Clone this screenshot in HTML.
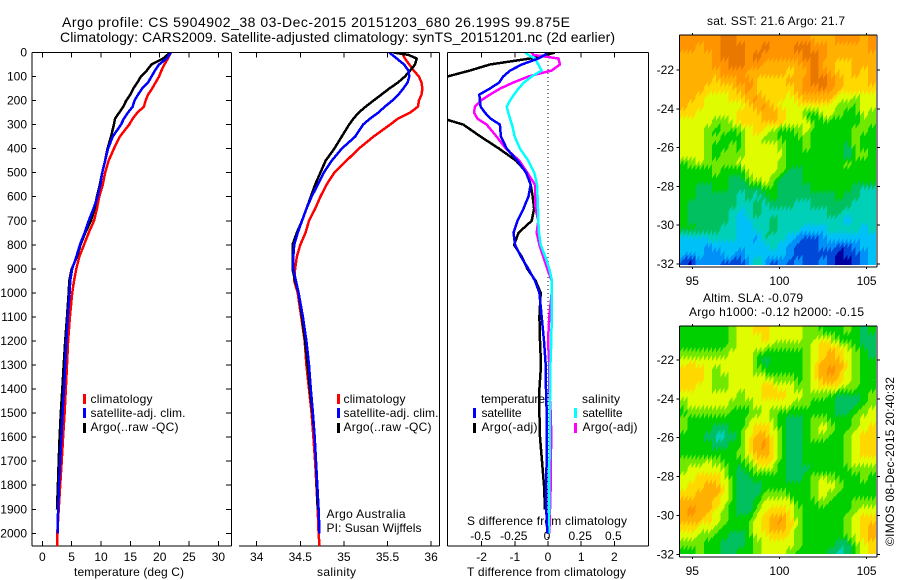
<!DOCTYPE html>
<html>
<head>
<meta charset="utf-8">
<title>Argo profile</title>
<style>
html,body{margin:0;padding:0;background:#fff;}
svg{display:block;}
text{font-family:"Liberation Sans",Arial,sans-serif;font-size:12px;fill:#000;}
.t14{font-size:14px;}
.crisp{shape-rendering:crispEdges;}
</style>
</head>
<body>
<svg id="chart" xmlns="http://www.w3.org/2000/svg" width="900" height="580" viewBox="0 0 900 580">
<defs>
<clipPath id="clip-t"><rect x="32" y="53" width="199" height="493"/></clipPath>
<clipPath id="clip-s"><rect x="239" y="53" width="200" height="493"/></clipPath>
<clipPath id="clip-d"><rect x="447.5" y="53" width="201" height="493"/></clipPath>
<clipPath id="clip-m1"><rect x="679" y="35" width="197" height="230"/></clipPath>
<clipPath id="clip-m2"><rect x="679" y="326" width="197" height="228"/></clipPath>
</defs>
<rect x="0" y="0" width="900" height="580" fill="#fff"/>
<text class="t14" x="62" y="27" textLength="508">Argo profile: CS 5904902_38 03-Dec-2015 20151203_680 26.199S 99.875E</text>
<text class="t14" x="60" y="42" textLength="555">Climatology: CARS2009. Satellite-adjusted climatology: synTS_20151201.nc (2d earlier)</text>

<text x="74" y="576" textLength="110">temperature (deg C)</text>
<text x="317" y="576" textLength="39">salinity</text>
<text x="467" y="576" textLength="159">T difference from climatology</text>
<text x="467" y="525" textLength="160">S difference from climatology</text>

<g>
<rect x="83" y="394" width="3" height="10" fill="#f00"/>
<rect x="83" y="408" width="3" height="10" fill="#00f"/>
<rect x="83" y="423" width="3" height="10" fill="#000"/>
<text x="90.5" y="403" textLength="62">climatology</text>
<text x="90.5" y="417" textLength="95">satellite-adj. clim.</text>
<text x="90.5" y="431" textLength="88">Argo(..raw -QC)</text>
</g>
<g>
<rect x="337" y="394" width="3" height="10" fill="#f00"/>
<rect x="337" y="408" width="3" height="10" fill="#00f"/>
<rect x="337" y="423" width="3" height="10" fill="#000"/>
<text x="343.5" y="403" textLength="62">climatology</text>
<text x="343.5" y="417" textLength="95">satellite-adj. clim.</text>
<text x="343.5" y="431" textLength="88">Argo(..raw -QC)</text>
<text x="326.5" y="518" textLength="79">Argo Australia</text>
<text x="326.5" y="532" textLength="95">PI: Susan Wijffels</text>
</g>

<g id="panels"></g>

<g>
<text x="481" y="403" textLength="64">temperature</text>
<text x="582" y="403" textLength="38">salinity</text>
<rect x="473" y="408" width="3" height="10" fill="#00f"/>
<rect x="473" y="423" width="3" height="10" fill="#000"/>
<rect x="574" y="408" width="3" height="10" fill="#0ff"/>
<rect x="574" y="423" width="3" height="10" fill="#f0f"/>
<text x="481.5" y="417" textLength="40">satellite</text>
<text x="481.5" y="431" textLength="56">Argo(-adj)</text>
<text x="582.5" y="417" textLength="40">satellite</text>
<text x="582.5" y="431" textLength="55">Argo(-adj)</text>
</g>

<text x="707" y="25" textLength="138">sat. SST: 21.6 Argo: 21.7</text>
<text x="703" y="302" textLength="100">Altim. SLA: -0.079</text>
<text x="689" y="316" textLength="175">Argo h1000: -0.12 h2000: -0.15</text>
<text transform="translate(894,546) rotate(-90)" x="0" y="0" textLength="169">©IMOS 08-Dec-2015 20:40:32</text>
</svg>
<script>
const depths = [0,10,25,50,75,100,125,150,175,200,225,250,275,300,350,400,450,500,550,600,650,700,750,800,850,900,950,1000,1100,1200,1300,1400,1500,1600,1700,1800,1900,2000,2052];

const tempClim = [21.9,21.7,21.4,20.8,20.3,19.9,19.3,18.7,18.0,17.6,17.3,16.2,15.4,14.8,13.2,12.2,11.3,10.7,10.3,9.7,9.3,8.8,7.9,7.1,6.3,5.8,5.4,5.1,4.7,4.4,4.2,4.0,3.8,3.55,3.3,3.05,2.8,2.55,2.55];
const tempSat = [21.9,21.6,21.2,19.9,19.2,18.6,18.0,17.0,16.3,15.7,15.4,14.6,13.9,13.4,12.0,11.2,10.7,10.2,9.9,9.4,8.7,7.9,7.2,6.4,5.8,5.1,4.75,4.65,4.35,4.1,3.9,3.7,3.45,3.25,3.05,2.85,2.7,2.6,null];
const tempArgo = [21.9,21.3,20.6,18.6,17.8,16.8,16.2,15.5,15.0,14.3,13.8,13.1,12.4,12.2,11.7,11.1,10.7,10.2,9.8,9.3,8.9,8.3,7.3,6.5,5.9,5.0,4.6,4.5,4.2,3.9,3.65,3.4,3.15,2.95,2.8,2.65,2.5,null,null];

const salClim = [35.66,35.68,35.70,35.75,35.80,35.86,35.89,35.90,35.89,35.86,35.85,35.76,35.62,35.53,35.34,35.17,35.03,34.89,34.80,34.73,34.67,34.60,34.56,34.50,34.46,34.44,34.43,34.47,34.51,34.55,34.57,34.60,34.63,34.65,34.67,34.685,34.70,34.71,34.72];
const salSat = [35.52,35.555,35.605,35.69,35.74,35.75,35.73,35.68,35.625,35.555,35.47,35.395,35.30,35.22,35.13,34.975,34.86,34.77,34.70,34.63,34.57,34.52,34.47,34.43,34.42,34.42,34.45,34.48,34.53,34.57,34.60,34.62,34.645,34.665,34.68,34.695,34.71,34.72,null];
const salArgo = [35.57,35.74,35.835,35.815,35.76,35.70,35.62,35.52,35.43,35.34,35.25,35.17,35.11,35.06,34.975,34.89,34.79,34.73,34.67,34.62,34.57,34.52,34.46,34.41,34.41,34.41,34.44,34.48,34.52,34.555,34.585,34.61,34.64,34.665,34.68,34.69,34.70,null,null];

const tDiffSat = [-0.04,-0.09,-0.29,-0.79,-1.14,-1.35,-1.47,-1.75,-2.07,-2.05,-2.03,-1.90,-1.73,-1.45,-1.42,-1.24,-0.92,-0.66,-0.52,-0.59,-0.74,-0.92,-1.04,-0.99,-0.81,-0.59,-0.39,-0.26,-0.19,-0.12,-0.07,-0.06,-0.04,-0.04,-0.04,-0.06,-0.05,-0.02,null];
const tDiffArgo = [0.21,-0.04,-0.54,-1.75,-2.35,-3.03,-3.5,-4,-4.2,-4.2,-4,-3.7,-3.15,-2.55,-2.03,-1.47,-0.96,-0.64,-0.52,-0.46,-0.42,-0.49,-0.89,-1.02,-0.79,-0.62,-0.37,-0.22,-0.26,-0.24,-0.21,-0.26,-0.26,-0.24,-0.18,-0.12,-0.09,null,null];
const sDiffSat = [-0.173,-0.148,-0.098,-0.073,-0.048,-0.123,-0.181,-0.223,-0.256,-0.286,-0.311,-0.299,-0.286,-0.271,-0.251,-0.211,-0.148,-0.103,-0.083,-0.078,-0.075,-0.073,-0.068,-0.055,-0.02,0.01,0.03,0.028,0.028,0.025,0.018,0.016,0.014,0.012,0.011,0.01,0.008,0.005,null];
const sDiffArgo = [-0.123,-0.11,0.078,0.09,0.028,-0.148,-0.261,-0.361,-0.437,-0.507,-0.55,-0.557,-0.532,-0.462,-0.387,-0.316,-0.216,-0.156,-0.098,-0.098,-0.093,-0.073,-0.085,-0.065,-0.035,-0.005,0.028,0.028,0.01,0,0.01,0.01,0.02,0.025,0.02,0.02,0.015,0.01,null];

const depthTicks = [0,100,200,300,400,500,600,700,800,900,1000,1100,1200,1300,1400,1500,1600,1700,1800,1900,2000];
const tempTicks = [0,5,10,15,20,25,30];
const salTicks = [34,34.5,35,35.5,36];
const tDiffTicks = [-2,-1,0,1,2];
const sDiffTicks = [-0.5,-0.25,0,0.25,0.5];
const lonTicks = [95,100,105];
const latTicks = [-22,-24,-26,-28,-30,-32];

const sstLevels = [
[11,11,11,11,11,12,12,11,11,11,11,11,11,11,11,11,10,10,10,11,11,11,10,11],
[11,11,10,11,11,12,12,12,11,11,12,11,11,11,12,12,11,11,10,10,10,10,10,11],
[10,10,10,10,11,12,12,12,11,12,11,11,11,11,11,12,12,11,10,10,10,10,10,10],
[10,10,10,10,11,11,12,12,11,11,10,10,10,10,10,11,12,10,10,9,9,10,10,10],
[10,10,10,10,10,11,11,11,10,10,10,10,10,9,10,10,12,11,10,9,9,10,9,10],
[10,10,10,10,9,10,10,11,11,9,9,9,9,10,10,11,12,12,11,10,9,9,9,10],
[10,10,10,9,9,9,9,10,11,9,9,9,9,9,10,11,11,12,11,10,9,9,9,9],
[10,10,9,8,8,8,9,9,10,11,9,9,9,8,9,10,10,10,10,8,8,7,8,8],
[10,9,9,8,8,8,8,8,9,10,11,9,8,8,8,9,8,8,8,7,7,6,8,8],
[9,9,8,8,8,8,8,9,9,9,10,10,9,8,8,6,6,8,8,7,6,6,8,7],
[8,8,8,8,7,7,8,9,9,9,10,10,9,8,8,8,6,6,6,6,6,6,7,7],
[8,8,8,7,6,7,6,7,8,9,8,7,6,6,7,8,6,6,6,6,6,7,7,6],
[8,8,8,7,7,6,6,6,8,8,7,7,6,6,6,7,6,6,6,6,6,7,6,6],
[8,8,8,7,6,6,7,6,8,8,8,8,7,6,6,7,6,6,6,6,5,7,6,6],
[8,8,8,7,6,7,7,7,8,8,8,8,8,6,6,6,6,6,6,6,4,7,7,6],
[6,7,8,7,7,7,7,8,8,8,8,8,7,6,6,6,6,6,6,6,7,6,6,6],
[6,6,6,6,7,6,6,6,8,8,8,8,7,5,5,6,6,6,6,6,6,6,6,6],
[6,6,6,6,6,6,5,5,7,8,8,7,5,5,5,6,6,6,6,6,6,6,6,6],
[6,6,5,5,6,6,5,5,5,5,7,6,5,5,5,5,6,6,6,6,6,5,4,4],
[6,6,5,5,5,5,5,4,5,4,5,7,5,5,5,5,5,5,5,6,5,5,4,4],
[6,5,5,5,5,5,5,4,4,5,4,5,5,5,4,4,5,5,5,5,5,4,4,4],
[6,5,5,5,5,5,4,3,4,5,4,4,4,4,4,4,4,4,5,5,4,4,4,4],
[6,5,5,5,5,5,4,3,3,4,4,5,4,4,4,4,4,4,4,4,2,4,4,4],
[6,6,5,5,5,4,4,3,3,4,4,5,4,4,4,3,3,3,4,4,4,4,3,4],
[3,3,3,4,4,4,4,3,3,2,5,4,4,3,2,1,1,2,3,3,3,3,3,3],
[3,3,3,2,3,3,3,3,3,3,3,4,3,2,1,1,1,2,2,1,1,2,3,3],
[3,3,3,2,2,3,3,2,3,3,3,3,3,2,1,1,1,1,1,0,1,1,2,3],
[1,0,2,2,2,1,1,1,2,5,2,1,2,1,2,1,1,2,1,0,0,1,2,3]
];

const slaLevels = [
[6,6,6,6,6,6,7,8,8,9,9,8,8,8,8,7,7,6,6,6,7,6,5,6],
[6,6,6,6,6,6,7,8,8,8,9,8,8,8,8,7,7,8,7,6,6,6,5,5],
[6,6,6,6,6,6,7,8,8,8,8,7,7,7,7,7,8,9,9,8,7,6,5,5],
[7,7,7,7,7,7,8,8,8,6,6,6,6,6,6,7,8,9,10,9,8,7,6,5],
[8,9,8,8,8,8,8,8,8,6,5,6,6,6,6,7,8,10,10,10,8,7,6,6],
[9,9,9,8,7,8,8,8,8,7,6,6,6,6,6,7,9,10,11,10,8,7,6,6],
[9,9,9,8,7,7,8,8,8,8,8,7,7,7,6,7,8,10,10,9,8,7,6,6],
[9,9,8,8,7,7,8,8,8,8,9,9,8,8,7,7,8,9,9,8,7,7,6,6],
[8,8,8,8,8,8,8,7,8,8,9,9,9,8,8,7,7,7,6,5,5,5,6,7],
[7,8,8,8,8,8,7,7,7,8,8,8,8,8,7,7,6,6,6,5,5,5,6,7],
[6,7,7,7,7,7,6,6,6,7,8,7,6,6,6,6,6,6,6,5,5,6,7,8],
[7,6,6,6,6,6,6,6,7,8,8,7,6,5,5,6,7,7,6,6,6,7,8,8],
[7,6,6,6,5,5,6,6,8,9,9,8,6,5,5,6,7,8,7,6,6,7,8,9],
[6,6,6,5,4,4,5,6,8,10,10,8,6,5,5,6,7,7,6,6,7,8,9,9],
[6,6,6,6,5,5,6,6,8,10,11,9,6,5,5,6,6,6,6,6,7,8,9,9],
[6,6,6,6,6,6,6,7,8,10,10,9,6,5,5,6,6,6,6,6,7,8,9,9],
[7,7,7,8,7,6,6,6,7,9,9,8,6,5,5,6,6,6,6,6,7,8,8,8],
[7,8,8,8,8,7,6,5,6,7,8,7,6,5,5,5,6,6,6,6,6,7,7,7],
[8,8,9,9,9,8,6,5,5,6,6,6,6,5,5,6,7,8,7,6,6,6,7,6],
[8,9,9,10,10,8,6,5,5,5,6,6,6,6,6,6,7,8,8,7,6,6,6,6],
[9,9,10,10,10,8,6,5,5,5,7,7,7,6,6,6,7,8,7,6,6,6,6,6],
[10,10,10,10,9,8,6,5,5,6,8,8,8,8,6,6,6,7,6,6,6,7,7,7],
[10,11,10,10,8,7,6,5,5,7,8,9,9,8,7,6,6,6,6,6,6,7,8,8],
[10,10,10,9,8,7,6,6,6,8,9,10,11,9,7,6,6,6,6,6,7,8,9,9],
[9,9,8,8,7,6,6,6,6,8,9,10,10,9,7,6,6,6,6,6,7,8,9,10],
[8,8,7,7,6,6,5,5,6,8,8,9,9,8,7,6,6,6,6,6,7,8,9,10],
[7,7,7,6,6,5,5,5,6,7,8,8,8,8,7,6,6,6,6,5,5,7,8,9],
[6,6,7,6,6,5,5,6,6,7,8,8,8,7,6,6,6,6,5,4,5,6,8,9]
];

const levelColors = ["#0000a0","#0048d8","#0090f8","#00c0f8","#00d0b8","#00c060","#00d000","#70e800","#e0fc00","#ffd800","#ffb000","#ff9400","#e87800"];

const NS = "http://www.w3.org/2000/svg";
const root = document.getElementById("panels");

const xTemp = v => 42.3 + v * 5.87;
const xSal = v => 256.7 + (v - 34) * 87.2;
const xTDiff = v => 548 + v * 33.2;
const xSDiff = v => 548 + v * 132.8;
const yDepth = d => 52.5 + d * 0.2404;
const xLon = v => 692.3 + (v - 95) * 17.43;
const yLat1 = v => 70 + (-22 - v) * 19.4;
const yLat2 = v => 360 + (-22 - v) * 19.43;

function mk(tag, attrs, parent) {
  const el = document.createElementNS(NS, tag);
  for (const k in attrs) el.setAttribute(k, attrs[k]);
  (parent || root).appendChild(el);
  return el;
}

function line(x1, y1, x2, y2, parent) {
  const el = mk("line", {x1: x1, y1: y1, x2: x2, y2: y2, stroke: "#000", "stroke-width": 1, class: "crisp"}, parent);
  
  
  return el;
}

function label(x, y, str, anchor, parent) {
  const el = mk("text", {x: x, y: y, "text-anchor": anchor}, parent);
  el.textContent = str;
  
  
  return el;
}

function drawCurve(values, xFn, color, name, clip, parent) {
  const pts = [];
  values.forEach((v, i) => { if (v !== null) pts.push(xFn(v).toFixed(1) + "," + yDepth(depths[i]).toFixed(1)); });
  const el = mk("polyline", {points: pts.join(" "), fill: "none", stroke: color, "stroke-width": 2.5, "clip-path": "url(#" + clip + ")", "stroke-linejoin": "round", class: "crisp"}, parent);
  
  
}

function profileAxes(left, right, hasLeftLine, xTicks, xFn, fmt, name) {
  const g = mk("g", {});
  
  
  const top = 52.5, bottom = 546;
  line(left, top, right, top, g);
  line(left, bottom, right, bottom, g);
  line(right, top, right, bottom, g);
  if (hasLeftLine) line(left, top, left, bottom, g);
  xTicks.forEach(t => {
    const x = xFn(t);
    line(x, top, x, top + 5, g);
    line(x, bottom, x, bottom - 5, g);
    label(x, 561, fmt(t), "middle", g);
  });
  return g;
}

/* Temperature panel */
const tempPanel = profileAxes(32, 231.5, true, tempTicks, xTemp, String, "temperature-panel");
depthTicks.forEach(d => {
  const y = yDepth(d);
  line(32, y, 36, y, tempPanel);
  line(231.5, y, 226, y, tempPanel);
  label(27, y + 4, String(d), "end", tempPanel);
});
drawCurve(tempClim, xTemp, "#f00", "temperature-climatology-line", "clip-t", tempPanel);
drawCurve(tempArgo, xTemp, "#000", "temperature-argo-line", "clip-t", tempPanel);
drawCurve(tempSat, xTemp, "#00f", "temperature-satellite-line", "clip-t", tempPanel);

/* Salinity panel */
const salPanel = profileAxes(239, 439.5, false, salTicks, xSal, String, "salinity-panel");
drawCurve(salClim, xSal, "#f00", "salinity-climatology-line", "clip-s", salPanel);
drawCurve(salArgo, xSal, "#000", "salinity-argo-line", "clip-s", salPanel);
drawCurve(salSat, xSal, "#00f", "salinity-satellite-line", "clip-s", salPanel);

/* Difference panel */
const diffPanel = profileAxes(447.5, 648.5, true, tDiffTicks, xTDiff, String, "difference-panel");
sDiffTicks.forEach(t => {
  label(xSDiff(t) - 1, 540, String(t), "middle", diffPanel);
});
const zeroLine = mk("line", {x1: xTDiff(0), y1: 53, x2: xTDiff(0), y2: 546, stroke: "#000", "stroke-width": 1, "stroke-dasharray": "1 3", class: "crisp"}, diffPanel);


drawCurve(tDiffArgo, xTDiff, "#000", "t-difference-argo-line", "clip-d", diffPanel);
drawCurve(sDiffArgo, xSDiff, "#f0f", "s-difference-argo-line", "clip-d", diffPanel);
drawCurve(sDiffSat, xSDiff, "#0ff", "s-difference-satellite-line", "clip-d", diffPanel);
drawCurve(tDiffSat, xTDiff, "#00f", "t-difference-satellite-line", "clip-d", diffPanel);

/* Maps: each grid value is shaded across finer cells, like interpolated pcolor shading */
function shade(levels, rf, cf) {
  const nr = levels.length, nc = levels[0].length;
  const r0 = Math.max(0, Math.min(nr - 1, Math.floor(rf - 0.5)));
  const r1 = Math.min(nr - 1, r0 + 1);
  const c0 = Math.max(0, Math.min(nc - 1, Math.floor(cf - 0.5)));
  const c1 = Math.min(nc - 1, c0 + 1);
  const tr = Math.max(0, Math.min(1, rf - 0.5 - r0));
  const tc = Math.max(0, Math.min(1, cf - 0.5 - c0));
  const top = levels[r0][c0] * (1 - tc) + levels[r0][c1] * tc;
  const bot = levels[r1][c0] * (1 - tc) + levels[r1][c1] * tc;
  return top * (1 - tr) + bot * tr;
}

function drawMap(levels, yLat, clip, name, top, bottom, labelY) {
  const g = mk("g", {});
  
  
  const cells = mk("g", {"clip-path": "url(#" + clip + ")", class: "crisp"}, g);
  
  
  const lonMin = 94.25, lonMax = 105.55, latMax = -20.2, latMin = -32.1;
  const sub = 2;
  const nr = levels.length * sub, nc = levels[0].length * sub;
  for (let r = 0; r < nr; r++) {
    for (let c = 0; c < nc; c++) {
      const lv = shade(levels, (r + 0.5) / sub, (c + 0.5) / sub);
      const x0 = xLon(lonMin + (lonMax - lonMin) * c / nc);
      const x1 = xLon(lonMin + (lonMax - lonMin) * (c + 1) / nc);
      let y0 = yLat(latMax + (latMin - latMax) * r / nr);
      let y1 = yLat(latMax + (latMin - latMax) * (r + 1) / nr);
      if (r === 0) y0 -= 12;
      if (r === nr - 1) y1 += 12;
      const s = 3;
      const p = [x0 + "," + (y0 + s), x1 + "," + (y0 - s), x1 + "," + (y1 - s), x0 + "," + (y1 + s)].join(" ");
      const cell = mk("polygon", {points: p, fill: levelColors[Math.round(lv)]}, cells);
      
      
    }
  }
  const L = 679.5, R = 877;
  line(L, top, R, top, g);
  line(L, bottom, R, bottom, g);
  line(L, top, L, bottom, g);
  line(R, top, R, bottom, g);
  lonTicks.forEach(v => {
    const x = xLon(v);
    line(x, top, x, top - 2, g);
    line(x, bottom, x, bottom + 2, g);
    label(x, labelY, String(v), "middle", g);
  });
  latTicks.forEach(v => {
    const y = yLat(v);
    line(L, y, L - 3, y, g);
    line(R, y, R + 3, y, g);
    label(674, y + 4, String(v), "end", g);
  });
}
drawMap(sstLevels, yLat1, "clip-m1", "sst-map", 35, 267, 285);
drawMap(slaLevels, yLat2, "clip-m2", "sla-map", 326, 557, 575);
</script>
</body>
</html>
